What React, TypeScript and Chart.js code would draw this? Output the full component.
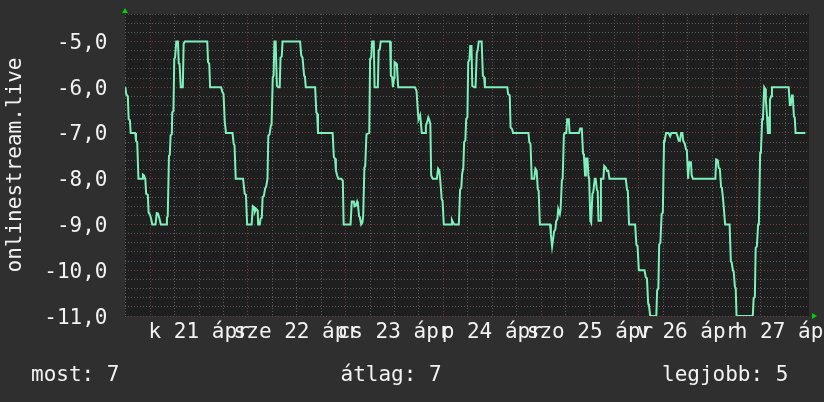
import React, { useEffect, useRef } from 'react';
import { Chart, registerables } from 'chart.js';

Chart.register(...registerables);

// hours since 21 Apr 00:00
const hours: number[] = [
  -6.1, -5.9, -5.5, -5.3, -5.0, -4.8, -3.7, -3.5, -3.2, -2.9, -2.0, -1.8, -1.5, -1.2, -1.0, -0.6, -0.4, -0.1, 0.2, 0.5,
  1.3, 1.6, 1.9, 2.2, 2.6, 3.9, 4.1, 4.3, 4.6, 4.8, 5.0, 5.3, 5.4, 5.7, 5.9, 6.1, 6.4, 6.8, 7.0, 7.2,
  7.5, 8.0, 8.2, 8.5, 14.0, 14.2, 14.5, 14.7, 17.4, 17.7, 18.0, 18.3, 18.6, 20.2, 20.5, 20.7, 21.0,
  22.8, 23.2, 23.5, 23.8, 24.9, 25.2, 25.5, 25.7, 26.0, 26.4, 26.5, 26.9, 27.1, 27.4, 27.6, 27.9, 28.2, 28.5, 28.8,
  29.0, 29.3, 29.6, 29.8, 30.1, 30.3, 30.5, 30.8, 31.1, 31.4, 31.8, 32.0, 32.3, 32.5, 36.8, 37.1, 37.4, 37.8, 38.0, 38.2,
  40.5, 40.8, 41.0, 41.2, 44.8, 45.1, 45.4, 45.6, 45.9, 46.2, 46.9, 47.3, 47.5, 49.2, 49.5,
  50.0, 50.2, 50.5, 50.8, 51.0, 51.3, 51.5, 51.8, 52.1, 52.3, 52.6, 52.8, 53.1, 53.8, 54.0, 54.3, 54.5, 54.9, 55.1,
  55.9, 56.1, 56.4, 56.6, 58.9, 59.1, 59.4, 59.6, 59.9, 60.0, 60.4, 60.6, 60.9, 65.0, 65.4, 65.8, 65.9, 66.3, 66.5, 66.7,
  67.5, 67.7, 68.0, 68.3, 68.5, 68.8, 69.0, 69.4, 70.4, 70.7, 71.0, 71.2, 71.6, 71.8, 72.1, 73.9, 74.1, 74.4, 74.7,
  75.8, 76.1, 76.4, 76.6, 76.9, 77.1, 77.4, 77.6, 77.9,
  78.1, 78.4, 78.6, 78.9, 79.1, 79.6, 79.9, 80.2, 80.4, 80.7, 81.4, 81.7, 82.0, 82.2, 87.7, 87.9, 88.3, 88.5, 88.9, 89.1,
  92.9, 93.1, 93.4, 93.7, 94.3, 94.6, 94.9, 95.2, 95.4, 95.7, 98.2, 98.4, 98.7, 98.9, 99.2, 99.5, 99.7, 100.0, 100.2,
  100.6, 100.8, 101.1, 101.3, 101.6, 101.8, 102.2, 102.4, 102.8, 103.0, 105.3, 105.6, 106.0,
  106.3, 106.5, 106.8, 107.0, 107.4, 107.6, 107.8, 108.1, 108.3, 108.6, 108.8, 109.2, 109.4, 109.7, 109.9, 110.1, 110.5,
  110.7, 111.3, 111.5, 111.9, 112.2, 112.5, 112.8, 116.8, 117.1, 117.3, 117.6, 119.1, 119.4, 119.7, 120.0, 121.4, 121.7,
  122.0, 122.3, 122.5, 122.8, 124.3, 124.5, 124.8, 125.0, 125.3, 125.6, 125.9, 126.2, 126.4, 126.7, 127.3, 127.7, 128.0,
  129.2, 129.5, 129.8, 130.1, 130.4, 130.7, 130.9, 131.3, 131.6, 131.8, 132.1, 132.4, 132.8, 133.0, 133.3,
  138.8, 139.0, 139.4, 139.6, 139.9, 140.2, 140.4, 140.7, 140.9, 141.2, 142.3, 142.6, 142.8, 143.1, 143.3, 143.6, 143.8,
  144.0, 148.0, 148.2, 148.5, 148.7, 149.0, 149.3, 149.5, 149.8, 150.0, 150.3, 150.5, 150.8, 151.0, 151.2, 151.5, 151.7,
  152.0, 152.2, 152.5, 152.7, 156.8, 157.1, 157.3, 157.6, 157.8, 158.1, 158.3, 158.5, 160.9,
];

// plotted rank (negated, so best rank is at top)
const ranks: number[] = [
  -6.0, -6.15, -6.2, -6.7, -6.72, -7.0, -7.0, -7.17, -7.2, -8.0, -8.0, -7.91, -7.93, -8.02, -8.33, -8.35, -8.74, -8.78, -8.87, -9.0,
  -9.0, -8.75, -8.76, -8.85, -9.0, -9.0, -8.85, -8.82, -7.5, -7.48, -7.05, -7.03, -6.55, -6.52, -5.38, -5.35, -5.0, -5.0, -5.48, -5.49,
  -6.0, -6.0, -5.05, -5.0, -5.0, -5.45, -5.49, -6.0, -6.0, -6.1, -6.15, -6.75, -7.0, -7.0, -7.24, -7.27, -8.0,
  -8.0, -8.33, -8.35, -9.0, -9.0, -8.6, -8.62, -8.72, -8.66, -8.7, -9.0, -9.0, -8.87, -8.85, -8.4, -8.38, -8.22, -8.16, -8.0,
  -7.06, -7.03, -6.85, -6.81, -5.78, -5.75, -5.0, -5.0, -5.96, -6.0, -6.0, -5.35, -5.33, -5.0, -5.0, -5.31, -5.35, -5.75, -5.78, -6.0,
  -6.0, -6.55, -6.58, -7.0, -7.0, -7.53, -7.56, -7.82, -7.93, -8.0, -8.0, -8.04, -9.0, -9.0, -8.5,
  -8.5, -8.6, -8.58, -8.5, -8.56, -8.82, -8.85, -9.0, -8.96, -8.82, -7.76, -7.72, -7.03, -7.0, -5.38, -5.35, -5.0, -5.0, -6.0,
  -6.0, -5.2, -5.16, -5.0, -5.0, -5.75, -5.78, -6.0, -5.78, -5.45, -5.48, -5.55, -6.0, -6.0, -6.08, -6.62, -6.7, -6.61, -6.61, -7.0,
  -7.0, -6.84, -6.77, -6.66, -6.7, -6.8, -7.93, -8.0, -8.0, -7.78, -7.82, -8.0, -8.45, -8.48, -9.0, -9.0, -8.9, -8.96, -9.0,
  -9.0, -8.24, -8.2, -7.9, -7.76, -7.2, -7.16, -6.69, -6.66,
  -5.45, -5.4, -5.1, -5.1, -5.97, -6.0, -6.0, -5.25, -5.2, -5.0, -5.0, -5.75, -5.78, -6.0, -6.0, -6.15, -6.18, -6.88, -6.92, -7.0,
  -7.0, -7.2, -7.24, -8.0, -8.0, -7.78, -7.82, -8.24, -8.26, -9.0, -9.0, -9.22, -9.48, -9.48, -9.15, -9.11, -8.93, -8.88, -8.66,
  -8.77, -8.66, -8.04, -8.0, -7.03, -7.0, -7.0, -6.7, -6.7, -7.0, -7.0, -6.9, -6.9,
  -7.45, -7.48, -7.93, -7.56, -7.56, -7.93, -8.0, -8.92, -8.96, -8.33, -8.3, -8.0, -8.0, -8.24, -8.27, -8.92, -8.92,
  -8.0, -8.0, -7.72, -7.76, -7.83, -7.83, -8.0, -8.0, -8.24, -8.27, -9.0, -9.0, -9.44, -9.48, -10.0, -10.0, -10.15,
  -10.18, -10.73, -10.77, -11.0, -11.0, -10.44, -10.4, -9.44, -9.4, -8.77, -8.74, -7.17, -7.14, -7.0, -7.0, -7.07, -7.0,
  -7.0, -7.07, -7.17, -7.17, -7.0, -7.0, -7.17, -7.24, -7.36, -7.38, -8.0, -7.64, -7.64, -7.93, -8.0,
  -8.0, -7.58, -7.6, -7.76, -7.78, -8.18, -8.2, -8.45, -8.45, -9.0, -9.0, -9.8, -9.83, -10.0, -10.03, -10.36, -10.4,
  -11.0, -11.0, -10.62, -10.58, -9.51, -9.48, -9.0, -8.96, -7.43, -7.4, -6.7, -6.66, -6.0, -6.03, -6.28, -6.64, -7.0,
  -7.0, -6.28, -6.2, -6.0, -6.0, -6.39, -6.39, -6.18, -6.18, -6.64, -6.66, -7.0, -7.0,
];

const dayLabels = ['k 21 ápr', 'sze 22 ápr', 'cs 23 ápr', 'p 24 ápr', 'szo 25 ápr', 'v 26 ápr', 'h 27 ápr'];
const dayLabelHours = [12, 36, 60, 84, 108, 132, 156];
const gridHours = [-6, 0, 6, 12, 18, 24, 30, 36, 42, 48, 54, 60, 66, 72, 78, 84, 90, 96, 102, 108, 114, 120, 126, 132, 138, 144, 150, 156];
const yLabelValues = [-5, -6, -7, -8, -9, -10, -11];
const yAxisTitle = 'onlinestream.live';
const legendTexts = ['most: 7', 'átlag: 7', 'legjobb: 5'];

const X_MIN = -6.2;
const X_MAX = 161.8;
const Y_MIN = -11;
const Y_MAX = -4.4;

const BG = '#2f2f2f';
const PLOT_BG = '#1f1f1f';
const GRID_MINOR = '#5a5a5a';
const GRID_MAJOR = '#763a3a';
const LINE = '#7ef0bb';
const TEXT = '#f2f2f2';
const ARROW = '#00d000';
const FONT = '21px "DejaVu Sans Mono"';

const decorPlugin = {
  id: 'decor',
  beforeDraw(chart: any) {
    const { ctx, width, height, chartArea: a } = chart;
    ctx.save();
    ctx.fillStyle = BG;
    ctx.fillRect(0, 0, width, height);
    ctx.fillStyle = PLOT_BG;
    ctx.fillRect(a.left, a.top, a.right - a.left, a.bottom - a.top);
    ctx.restore();
  },
  afterDraw(chart: any) {
    const { ctx, chartArea: a } = chart;
    const xs = chart.scales.x;
    const ys = chart.scales.y;
    ctx.save();
    ctx.font = FONT;
    ctx.fillStyle = TEXT;
    ctx.textBaseline = 'alphabetic';

    // y tick labels
    ctx.textAlign = 'right';
    yLabelValues.forEach((v) => {
      ctx.fillText(v.toFixed(1).replace('.', ','), a.left - 17.5, ys.getPixelForValue(v) + 7.5);
    });

    // x day labels
    ctx.textAlign = 'center';
    dayLabels.forEach((t, i) => {
      ctx.fillText(t, xs.getPixelForValue(dayLabelHours[i]), a.bottom + 22);
    });

    // legend line
    ctx.textAlign = 'left';
    const legendX = [31, 340.5, 662];
    legendTexts.forEach((t, i) => ctx.fillText(t, legendX[i], 381));

    // y-axis title
    ctx.save();
    ctx.translate(20.5, (a.top + a.bottom) / 2);
    ctx.rotate(-Math.PI / 2);
    ctx.textAlign = 'center';
    ctx.fillText(yAxisTitle, 0, 0);
    ctx.restore();

    // axis arrows
    ctx.fillStyle = ARROW;
    ctx.beginPath();
    ctx.moveTo(a.left - 3, a.top - 1);
    ctx.lineTo(a.left + 3, a.top - 1);
    ctx.lineTo(a.left, a.top - 6);
    ctx.closePath();
    ctx.fill();
    ctx.beginPath();
    ctx.moveTo(a.right + 3, a.bottom - 3);
    ctx.lineTo(a.right + 3, a.bottom + 3);
    ctx.lineTo(a.right + 8, a.bottom);
    ctx.closePath();
    ctx.fill();
    ctx.restore();
  },
};

export default function App() {
  const canvasRef = useRef<HTMLCanvasElement | null>(null);

  useEffect(() => {
    const canvas = canvasRef.current;
    if (!canvas) return;
    const yTicks: number[] = [];
    for (let i = 0; i <= Math.round((Y_MAX - Y_MIN) / 0.2); i++) {
      yTicks.push(Math.round((Y_MIN + i * 0.2) * 10) / 10);
    }
    const chart = new Chart(canvas, {
      type: 'line',
      data: {
        datasets: [
          {
            data: hours.map((h, i) => ({ x: h, y: ranks[i] })),
            borderColor: LINE,
            borderWidth: 2,
            pointRadius: 0,
            tension: 0,
            fill: false,
          },
        ],
      },
      options: {
        animation: false,
        responsive: false,
        devicePixelRatio: 1,
        layout: { padding: { top: 14, right: 15, left: 0, bottom: 0 } },
        plugins: { legend: { display: false }, tooltip: { enabled: false } },
        events: [],
        scales: {
          x: {
            type: 'linear',
            min: X_MIN,
            max: X_MAX,
            afterBuildTicks: (scale: any) => {
              scale.ticks = gridHours.map((v) => ({ value: v }));
            },
            afterFit: (scale: any) => {
              scale.height = 86;
            },
            ticks: { display: false },
            grid: {
              drawTicks: false,
              lineWidth: 1,
              color: (c: any) => (c.tick && c.tick.value % 24 === 0 ? GRID_MAJOR : GRID_MINOR),
            },
            border: { display: false, dash: [1, 2] },
          },
          y: {
            type: 'linear',
            min: Y_MIN,
            max: Y_MAX,
            afterBuildTicks: (scale: any) => {
              scale.ticks = yTicks.map((v) => ({ value: v }));
            },
            afterFit: (scale: any) => {
              scale.width = 125;
            },
            ticks: { display: false },
            grid: {
              drawTicks: false,
              lineWidth: 1,
              color: (c: any) => (c.tick && Number.isInteger(c.tick.value) ? GRID_MAJOR : GRID_MINOR),
            },
            border: { display: false, dash: [1, 2] },
          },
        },
      } as any,
      plugins: [decorPlugin],
    });
    return () => chart.destroy();
  }, []);

  return (
    <div style={{ position: 'fixed', left: 0, top: 0, width: 824, height: 402, background: BG }}>
      <canvas ref={canvasRef} width={824} height={402} style={{ display: 'block', width: 824, height: 402 }} />
    </div>
  );
}
